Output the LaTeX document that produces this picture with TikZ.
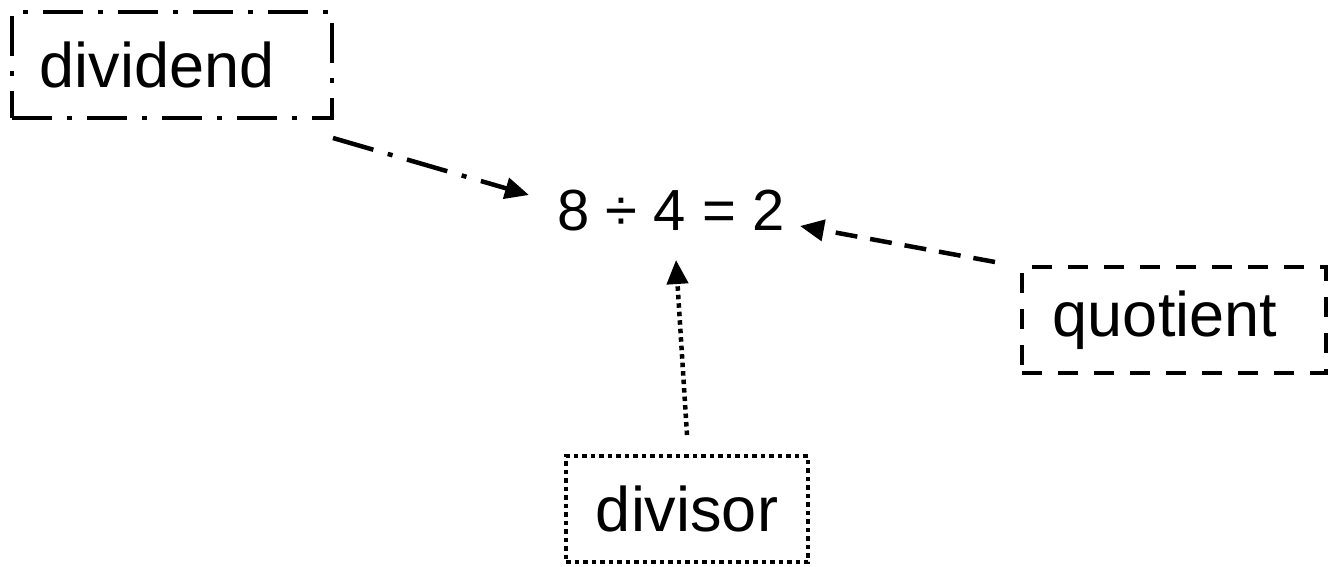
\documentclass[tikz,border=0pt]{standalone}
\usepackage{fontspec}
\setmainfont{Liberation Sans}
\usetikzlibrary{arrows.meta}
\begin{document}
\begin{tikzpicture}[x=1pt,y=-1pt,
  lbl/.style={font=\fontsize{63}{75}\selectfont, inner sep=0pt, line width=4.5pt, line cap=butt},
  dashdotbox/.style={lbl, draw, dash pattern=on 40pt off 15pt on 5pt off 15pt},
  dashbox/.style={lbl, draw, dash pattern=on 20pt off 16pt},
  dotbox/.style={lbl, draw, dash pattern=on 4.5pt off 4pt},
  conn/.style={line width=4.5pt, -{Triangle[length=24pt,width=21pt]}},
]
\useasboundingbox (0,0) rectangle (1337,566);
\node[dashdotbox, minimum width=320pt, minimum height=106pt] (dividend) at (172,65) {\hspace*{-30pt}dividend};
\node[dashbox, minimum width=304pt, minimum height=106pt] (quotient) at (1174,320) {\hspace*{-18pt}quotient};
\node[dotbox, minimum width=242pt, minimum height=106pt] (divisor) at (687,509) {divisor};
\node[lbl, font=\fontsize{58}{70}\selectfont] (eq) at (671,211) {8 ÷ 4 = 2};

\coordinate (a1) at (333,138);
\coordinate (a2) at (529,195);
\coordinate (b1) at (995,262);
\coordinate (b2) at (800,226);
\coordinate (c1) at (687,435);
\coordinate (c2) at (676,260);

\draw[conn, dash pattern=on 42pt off 15pt on 5pt off 15pt] (a1) -- (a2);
\draw[conn, dash pattern=on 22pt off 13pt] (b1) -- (b2);
\draw[conn, dash pattern=on 4.5pt off 4pt] (c1) -- (c2);
\end{tikzpicture}
\end{document}
